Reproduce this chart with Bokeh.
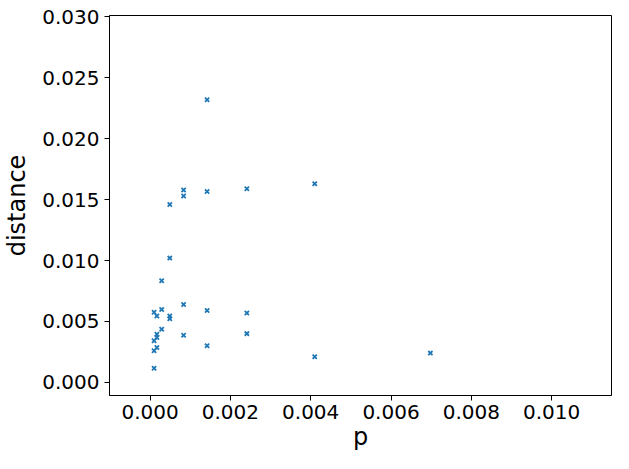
from bokeh.plotting import figure
from bokeh.models import Range1d, FixedTicker, NumeralTickFormatter
from bokeh.embed import file_html
from bokeh.resources import INLINE

# data
p_vals = [0.0001, 0.0001, 0.0001, 0.0001,
          0.00017, 0.00017, 0.00017, 0.00017,
          0.000289, 0.000289, 0.000289,
          0.000491, 0.000491, 0.000491, 0.000491,
          0.000835, 0.000835, 0.000835, 0.000835,
          0.00142, 0.00142, 0.00142, 0.00142,
          0.00241, 0.00241, 0.00241,
          0.0041, 0.0041,
          0.00698]
distance = [0.00576, 0.00341, 0.0026, 0.00116,
            0.00544, 0.00395, 0.00368, 0.00287,
            0.00598, 0.00436, 0.00835,
            0.00544, 0.00522, 0.0102, 0.0146,
            0.00639, 0.00387, 0.0158, 0.0153,
            0.0059, 0.0030, 0.01567, 0.0232,
            0.0057, 0.0040, 0.0159,
            0.0163, 0.0021,
            0.0024]
x_ticks = [0.0, 0.002, 0.004, 0.006, 0.008, 0.010]
y_ticks = [0.0, 0.005, 0.010, 0.015, 0.020, 0.025, 0.030]

FONT = "DejaVu Sans"

p = figure(width=613, height=453, output_backend="svg", toolbar_location=None,
           x_range=Range1d(-0.00101, 0.01149), y_range=Range1d(-0.00108, 0.03012),
           min_border_left=108, min_border_right=2, min_border_top=15, min_border_bottom=58)

p.scatter(p_vals, distance, marker="x", size=6, line_width=1.8, line_color="#1f77b4")

p.xgrid.visible = False
p.ygrid.visible = False
p.outline_line_color = "black"
p.outline_line_width = 1
p.background_fill_color = "white"
p.border_fill_color = "white"

for ax, ticks, lab in ((p.xaxis[0], x_ticks, "p"), (p.yaxis[0], y_ticks, "distance")):
    ax.ticker = FixedTicker(ticks=ticks)
    ax.formatter = NumeralTickFormatter(format="0.000")
    ax.axis_label = lab
    ax.axis_label_text_font = FONT
    ax.axis_label_text_font_size = "24px"
    ax.axis_label_text_font_style = "normal"
    ax.axis_label_text_color = "black"
    ax.major_label_text_font = FONT
    ax.major_label_text_font_size = "20px"
    ax.major_label_text_color = "black"
    ax.major_tick_out = 5
    ax.major_tick_in = 0
    ax.minor_tick_out = 0
    ax.minor_tick_in = 0
    ax.axis_line_color = "black"
    ax.major_tick_line_color = "black"

p.xaxis[0].major_label_standoff = 4
p.xaxis[0].axis_label_standoff = 1
p.yaxis[0].major_label_standoff = 5
p.yaxis[0].axis_label_standoff = 8

open("out.html", "w").write(file_html(p, INLINE))
